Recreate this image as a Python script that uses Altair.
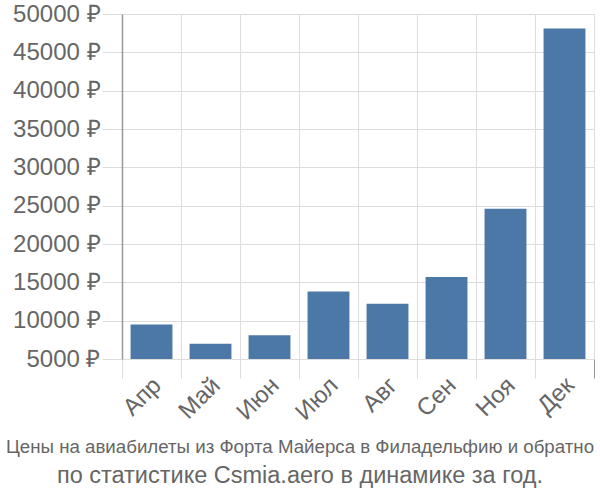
import altair as alt
import pandas as pd

months = ["Апр", "Май", "Июн", "Июл", "Авг", "Сен", "Ноя", "Дек"]
prices = [9500, 7000, 8100, 13800, 12200, 15700, 24600, 48100]
y_ticks = [5000, 10000, 15000, 20000, 25000, 30000, 35000, 40000, 45000, 50000]
title_line1 = "Цены на авиабилеты из Форта Майерса в Филадельфию и обратно"
title_line2 = "по статистике Csmia.aero в динамике за год."

df = pd.DataFrame({"month": months, "price": prices})

chart = alt.Chart(df).mark_bar(
    color="#4c78a8", width=alt.RelativeBandSize(0.71)
).encode(
    x=alt.X("month:N", sort=months, title=None,
            scale=alt.Scale(paddingInner=0, paddingOuter=0),
            axis=alt.Axis(
                tickBand="extent", grid=True, gridColor="#dddddd",
                tickColor={"condition": {"test": "datum.index === 1", "value": "#999999"}, "value": "#dddddd"},
                tickSize=19, domain=False,
                labelAngle=-45, labelFontSize=24, labelColor="#666666",
                labelFont="Liberation Sans", labelPadding=-5, labelOffset=-3)),
    y=alt.Y("price:Q", title=None,
            scale=alt.Scale(domain=[5000, 50000], zero=False, nice=False),
            axis=alt.Axis(values=y_ticks, labelExpr="datum.value + ' ₽'",
                          grid=True, gridColor="#dddddd", tickColor="#dddddd",
                          tickSize=20, domainColor="#999999", domainWidth=1.5,
                          labelFontSize=24, labelColor="#666666",
                          labelFont="Liberation Sans", labelPadding=2)),
    y2=alt.datum(5000),
).properties(
    width=472, height=345,
    padding={"left": 122, "top": 14, "right": 6, "bottom": 141},
    autosize=alt.AutoSizeParams(type="none"),
    title=alt.TitleParams(
        text=title_line1, subtitle=title_line2, orient="bottom", anchor="middle",
        font="Liberation Sans",
        fontSize=18.7, fontWeight="normal", color="#666666",
        subtitleFont="Liberation Sans", subtitleFontSize=23.5, subtitleColor="#666666",
        offset=14, subtitlePadding=7, dx=-58),
).configure_view(stroke=None)

chart.save("out.html", embed_options={"renderer": "svg", "actions": False})
